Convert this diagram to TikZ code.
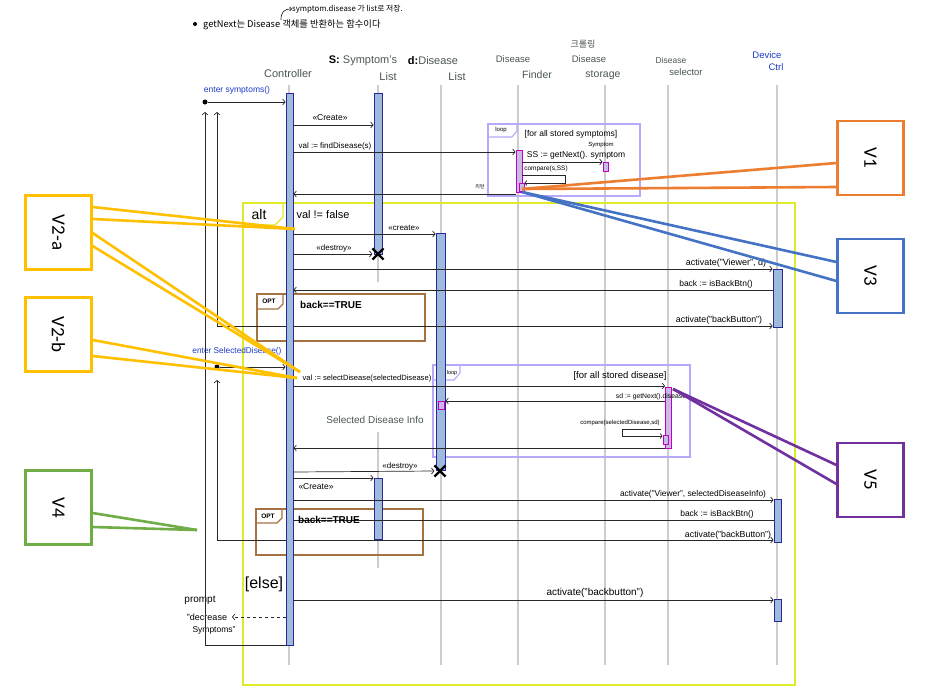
\documentclass[tikz,border=0pt]{standalone}
\usepackage{fontspec}
\setmainfont{Liberation Sans}
\newfontfamily\kr{Noto Sans CJK KR}
\newfontfamily\calib{Carlito}
\usetikzlibrary{arrows.meta,shapes.misc}
\definecolor{lifegray}{RGB}{205,205,205}
\definecolor{barfill}{RGB}{158,186,220}
\definecolor{barborder}{RGB}{40,40,150}
\definecolor{magfill}{RGB}{200,188,228}
\definecolor{magborder}{RGB}{190,0,200}
\definecolor{altcol}{RGB}{222,236,40}
\definecolor{loopcol}{RGB}{182,168,250}
\definecolor{optcol}{RGB}{165,115,65}
\definecolor{hdrgray}{RGB}{75,85,85}
\definecolor{bluetxt}{RGB}{30,60,200}
\definecolor{msgcol}{RGB}{40,40,40}
\definecolor{corange}{RGB}{237,125,49}
\definecolor{cblue}{RGB}{68,114,196}
\definecolor{cgold}{RGB}{255,192,0}
\definecolor{cgreen}{RGB}{112,173,71}
\definecolor{cpurple}{RGB}{112,48,160}
\tikzset{
  lifeline/.style={draw=lifegray, line width=1.3},
  actbar/.style={rectangle, draw=barborder, fill=barfill, line width=0.9, inner sep=0},
  magbar/.style={rectangle, draw=magborder, fill=magfill, line width=0.9, inner sep=0},
  msg/.style={line width=0.7, draw=msgcol, -{Straight Barb[length=2.5pt,width=6pt]}},
  seg/.style={line width=0.7, draw=msgcol},
  lbl/.style={inner sep=0, text=black},
  hdr/.style={inner sep=0, text=hdrgray, font=\fontsize{10.5}{11}\selectfont},
  xmark/.style={cross out, draw=black, line width=2.2, inner sep=0, minimum size=9},
  dotstart/.style={circle, fill=black, inner sep=0, minimum size=5},
  altframe/.style={draw=altcol, line width=1.3},
  loopframe/.style={draw=loopcol, line width=1.1},
  optframe/.style={draw=optcol, line width=1.2},
  callbox/.style={rectangle, draw=#1, line width=2.2, fill=white, inner sep=0, minimum width=66, minimum height=74, font=\calib\fontsize{19}{20}\selectfont},
  callline/.style={draw=#1, line width=2.6},
  fs/.style={font=\fontsize{#1}{#1}\selectfont}
}
\begin{document}
\begin{tikzpicture}[x=1pt,y=-1pt]
\fill[white] (0,0) rectangle (929,699);
\useasboundingbox (0,0) rectangle (929,699);

% ---------- top note ----------
\node[dotstart, minimum size=4] (bul) at (195,24) {};
\node[lbl, anchor=west, font=\kr\fontsize{9.3}{10}\selectfont] (note) at (203,25) {getNext는 Disease 객체를 반환하는 함수이다};
\node[lbl, anchor=west, font=\kr\fontsize{7.8}{8}\selectfont] (note2) at (292,9) {symptom.disease 가 list로 저장.};
\coordinate (nstart) at (281,20);
\draw[seg, -{Straight Barb[length=2pt,width=4pt]}] (nstart) .. controls (281,12) and (284,9) .. (note2.west);

% ---------- headers ----------
\node[hdr, fs=11] (hC) at (288,74) {Controller};
\node[hdr, fs=11] (hS) at (363,61) {{\bfseries\color{black}S:} Symptom's};
\node[hdr, fs=11] (hSL) at (388,77) {List};
\node[hdr, fs=11] (hD) at (433,61) {{\bfseries\color{black}d:}Disease};
\node[hdr, fs=11] (hDL) at (457,77) {List};
\node[hdr, fs=9.5] (hF1) at (513,59) {Disease};
\node[hdr, fs=10.5] (hF2) at (537,75) {Finder};
\node[hdr, font=\kr\fontsize{9}{9}\selectfont] (hK) at (583,44) {크롤링};
\node[hdr, fs=9.5] (hSt1) at (589,59) {Disease};
\node[hdr, fs=10.5] (hSt2) at (603,75) {storage};
\node[hdr, fs=8.5] (hSe1) at (671,60) {Disease};
\node[hdr, fs=9.5] (hSe2) at (686,72) {selector};
\node[hdr, fs=9.5, text=bluetxt] (hDv1) at (767,55) {Device};
\node[hdr, fs=9.5, text=bluetxt] (hDv2) at (776,67) {Ctrl};

% ---------- lifelines ----------
\draw[lifeline] (289,85) -- (289,665);
\draw[lifeline] (378,85) -- (378,282);
\draw[lifeline] (441,85) -- (441,665);
\draw[lifeline] (518,85) -- (518,665);
\draw[lifeline] (605,85) -- (605,665);
\draw[lifeline] (668,85) -- (668,665);
\draw[lifeline] (777,85) -- (777,665);
\draw[lifeline] (378,432) -- (378,568);

% ---------- frames ----------
\draw[altframe] (243,203) rectangle (795,685);
\draw[altframe] (283,203) -- (283,217) -- (275,225) -- (243,225);
\node[lbl, fs=14] (altl) at (259,214) {alt};

\draw[loopframe] (488,124) rectangle (640,196);
\draw[loopframe] (517,124) -- (517,131) -- (512,137) -- (488,137);
\node[lbl, fs=6] (loop1) at (501,130) {loop};

\draw[loopframe] (433,365) rectangle (690,457);
\draw[loopframe] (460,365) -- (460,373) -- (454,380) -- (433,380);

\draw[optframe] (257,294) rectangle (425,341);
\draw[optframe] (283,294) -- (283,304) -- (278,309) -- (257,309);
\node[lbl, font=\bfseries\fontsize{6.5}{6.5}\selectfont] (opt1) at (269,301) {OPT};

\draw[optframe] (256,509) rectangle (423,555);
\draw[optframe] (282,509) -- (282,518) -- (277,523) -- (256,523);
\node[lbl, font=\bfseries\fontsize{6.5}{6.5}\selectfont] (opt2) at (268,516) {OPT};

% ---------- left return loops ----------
\coordinate (la1) at (217,326);
\coordinate (la2) at (217,112);
\coordinate (lb1) at (217,540);
\coordinate (lb2) at (217,380);
\coordinate (lc1) at (205,645);
\coordinate (lc2) at (205,112);

% ---------- activation bars ----------
\node[actbar, minimum width=7, minimum height=552] (ctrlbar) at (289.5,369) {};
\node[actbar, minimum width=8, minimum height=161] (symbar) at (378,173.5) {};
\node[actbar, minimum width=9, minimum height=237] (dlbar) at (440.5,351.5) {};
\node[magbar, minimum width=6, minimum height=42] (finderbar) at (519,171) {};
\node[magbar, minimum width=5, minimum height=8] (findernest) at (521.5,187) {};
\node[magbar, minimum width=5, minimum height=9] (storbar) at (605.5,166.5) {};
\node[actbar, minimum width=9, minimum height=58] (dev1) at (777.5,298) {};
\node[magbar, minimum width=6, minimum height=61] (selbar) at (668.5,417.5) {};
\node[magbar, minimum width=5, minimum height=9] (selnest) at (665.5,439.5) {};
\node[magbar, minimum width=6, minimum height=8] (dlnest) at (441,405) {};
\node[actbar, minimum width=8, minimum height=61] (sdibar) at (378,508.5) {};
\node[actbar, minimum width=7, minimum height=43] (dev2) at (777.5,520.5) {};
\node[actbar, minimum width=7, minimum height=22] (dev3) at (777.5,610) {};
\node[lbl, fs=5.5] (loop2) at (452,373) {loop};

% ---------- messages ----------
\node[dotstart] (d1) at (205,102) {};
\draw[msg] (d1) -- (ctrlbar.west |- 0,102);
\node[lbl, fs=8.5, text=bluetxt] (l1) at (237,90) {enter symptoms()};

\draw[msg] (ctrlbar.east |- 0,125) -- (symbar.west |- 0,125);
\node[lbl, fs=8.5] (l2) at (330,118) {«Create»};

\draw[msg] (ctrlbar.east |- 0,152) -- (finderbar.west |- 0,152);
\node[lbl, fs=8] (l3) at (335,146) {val := findDisease(s)};

\node[lbl, fs=8.5] (l4) at (571,134) {[for all stored symptoms]};
\draw[msg] (finderbar.east |- 0,162) -- (storbar.west |- 0,162);
\node[lbl, fs=8.5] (l5) at (576,155) {SS := getNext(). symptom};
\node[lbl, fs=6] (l5b) at (601,145) {Symptom};
\draw[seg, -{Straight Barb[length=2pt,width=5pt]}] (finderbar.east |- 0,175) -- (565,175) -- (565,183) -- (findernest.east |- 0,183);
\node[lbl, fs=6.5] (l6) at (546,169) {compare(s,SS)};

\coordinate (r1) at (516,194);
\draw[msg] (r1) -- (ctrlbar.east |- 0,194);
\node[lbl, font=\kr\fontsize{5}{5}\selectfont] (l7) at (480,187) {리턴};

\node[lbl, fs=11] (l8) at (323,215) {val != false};
\draw[msg] (ctrlbar.east |- 0,234) -- (dlbar.west |- 0,234);
\node[lbl, fs=8] (l9) at (404,228) {«create»};
\node[xmark] (x1) at (378,254) {};
\draw[msg] (ctrlbar.east |- 0,254) -- (x1.west);
\node[lbl, fs=8] (l10) at (334,248) {«destroy»};

\draw[msg] (ctrlbar.east |- 0,269) -- (dev1.west |- 0,269);
\node[lbl, fs=9] (l11) at (726,263) {activate("Viewer", d)};
\draw[msg] (dev1.west |- 0,290) -- (ctrlbar.east |- 0,290);
\node[lbl, fs=8.5] (l12) at (716,284) {back := isBackBtn()};
\node[lbl, font=\bfseries\fontsize{10}{10}\selectfont] (l13) at (331,305) {back==TRUE};
\draw[msg] (ctrlbar.east |- 0,326) -- (dev1.west |- 0,326);
\node[lbl, fs=8.8] (l14) at (719,320) {activate("backButton")};
\draw[seg] (ctrlbar.west |- 0,326) -- (la1);
\draw[msg] (la1) -- (la2);

\node[dotstart] (d2) at (217,367) {};
\draw[msg] (d2) -- (ctrlbar.west |- 0,367);
\node[lbl, fs=8.3, text=bluetxt] (l15) at (237,351) {enter SelectedDisease()};
\draw[msg] (lb1) -- (lb2);
\draw[seg] (ctrlbar.west |- 0,540) -- (lb1);

\draw[msg] (ctrlbar.east |- 0,386) -- (selbar.west |- 0,386);
\node[lbl, fs=7.6] (l16) at (367,379) {val := selectDisease(selectedDisease)};
\node[lbl, fs=9.5] (l17) at (620,376) {[for all stored disease]};
\draw[msg] (selbar.west |- 0,401) -- (dlbar.east |- 0,401);
\node[lbl, fs=6.8] (l18) at (651,397) {sd := getNext().disease};
\coordinate (cp1) at (661,429);
\draw[seg, -{Straight Barb[length=2pt,width=5pt]}] (cp1) -- (622,429) -- (622,436) -- (selnest.west |- 0,436);
\node[lbl, fs=6] (l19) at (620,423) {compare(selectedDisease,sd)};
\draw[msg] (selbar.west |- 0,448) -- (ctrlbar.east |- 0,448);

\node[lbl, fs=10, text=hdrgray] (hSDI) at (375,420) {Selected Disease Info};

\node[xmark] (x2) at (440,471) {};
\draw[msg] (ctrlbar.east |- 0,472) -- (x2.west);
\node[lbl, fs=8] (l20) at (400,466) {«destroy»};
\draw[msg] (ctrlbar.east |- 0,478) -- (sdibar.west |- 0,478);
\node[lbl, fs=8.5] (l21) at (316,487) {«Create»};

\draw[msg] (ctrlbar.east |- 0,500) -- (dev2.west |- 0,500);
\node[lbl, fs=8.4] (l22) at (693,494) {activate("Viewer", selectedDiseaseInfo)};
\draw[seg] (dev2.west |- 0,520) -- (ctrlbar.east |- 0,520);
\node[lbl, fs=8.5] (l23) at (717,514) {back := isBackBtn()};
\node[lbl, font=\bfseries\fontsize{10}{10}\selectfont] (l24) at (329,520) {back==TRUE};
\draw[msg] (ctrlbar.east |- 0,540) -- (dev2.west |- 0,540);
\node[lbl, fs=8.8] (l25) at (728,535) {activate("backButton")};

\node[lbl, fs=16] (l26) at (264,584) {[else]};
\draw[msg] (ctrlbar.east |- 0,600) -- (dev3.west |- 0,600);
\node[lbl, fs=10] (l27) at (595,593) {activate("backbutton")};

\coordinate (pr) at (232,617);
\draw[msg, dashed] (ctrlbar.west |- 0,617) -- (pr);
\node[lbl, fs=10] (l28) at (200,600) {prompt};
\node[lbl, fs=9] (l29) at (207,617) {"decrease};
\node[lbl, fs=8.5] (l30) at (214,630) {Symptoms"};
\draw[seg] (ctrlbar.west |- 0,645) -- (lc1);
\draw[msg] (lc1) -- (lc2);

% ---------- callouts ----------
\coordinate (t1) at (522,189);
\coordinate (t3) at (522,192);
\coordinate (t5) at (673,389);
\coordinate (t2a) at (295,229);
\coordinate (t2a2) at (300,372);
\coordinate (t2b) at (297,378);
\coordinate (t4) at (197,530);

\node[callbox=corange] (V1) at (870.5,158) {\rotatebox{-90}{V1}};
\node[callbox=cblue] (V3) at (870.5,276) {\rotatebox{-90}{V3}};
\node[callbox=cpurple] (V5) at (870.5,480) {\rotatebox{-90}{V5}};
\node[callbox=cgold] (V2a) at (58.5,232.5) {\rotatebox{-90}{V2-a}};
\node[callbox=cgold] (V2b) at (58.5,334.5) {\rotatebox{-90}{V2-b}};
\node[callbox=cgreen] (V4) at (58.5,507.5) {\rotatebox{-90}{V4}};

\draw[callline=corange] (V1.west |- 0,163) -- (t1);
\draw[callline=corange] (V1.west |- 0,187) -- (t1);
\draw[callline=cblue] (V3.west |- 0,262) -- (t3);
\draw[callline=cblue] (V3.west |- 0,281) -- (t3);
\draw[callline=cpurple] (V5.west |- 0,465) -- (t5);
\draw[callline=cpurple] (V5.west |- 0,484) -- (t5);
\draw[callline=cgold] (V2a.east |- 0,207) -- (t2a);
\draw[callline=cgold] (V2a.east |- 0,219) -- (t2a);
\draw[callline=cgold] (V2a.east |- 0,233) -- (t2a2);
\draw[callline=cgold] (V2a.east |- 0,246) -- (t2a2);
\draw[callline=cgold] (V2b.east |- 0,340) -- (t2b);
\draw[callline=cgold] (V2b.east |- 0,356) -- (t2b);
\draw[callline=cgreen] (V4.east |- 0,513) -- (t4);
\draw[callline=cgreen] (V4.east |- 0,527) -- (t4);
\end{tikzpicture}
\end{document}
